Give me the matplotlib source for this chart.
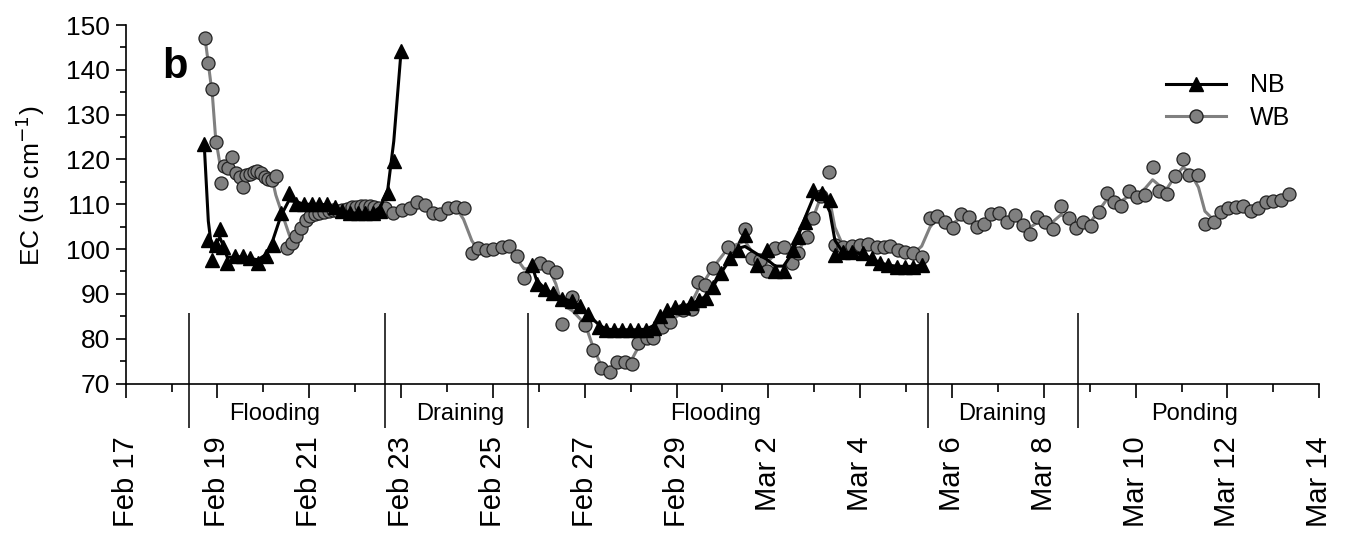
import numpy as np
import pandas as pd
from matplotlib import pyplot as plt
from matplotlib.ticker import MultipleLocator, FixedLocator

plt.rcParams['font.family'] = ['Liberation Sans', 'DejaVu Sans']

# time axis: days since Feb 17
tick_days = list(range(0, 27, 2))
tick_labels = ['Feb 17', 'Feb 19', 'Feb 21', 'Feb 23', 'Feb 25', 'Feb 27', 'Feb 29',
               'Mar 2', 'Mar 4', 'Mar 6', 'Mar 8', 'Mar 10', 'Mar 12', 'Mar 14']

# NB (two pieces)
nb1_day = [1.71, 1.80, 1.88, 1.96, 2.05, 2.13, 2.21, 2.38, 2.55, 2.71, 2.88, 3.05, 3.21,
           3.38, 3.55, 3.71, 3.88, 4.05, 4.21, 4.38, 4.55, 4.71, 4.88, 5.05, 5.21, 5.38,
           5.55, 5.71, 5.84, 6.00]
nb1_ec = [123.5, 102, 97.5, 101, 104.5, 100.5, 97, 98.5, 98.5, 98, 97, 98.5, 101,
          108, 112.5, 110, 110, 110, 110, 110, 109.5, 108.5, 108, 108, 108, 108,
          108.5, 112.6, 119.7, 144.3]
nb2_day = [8.85, 8.95, 9.13, 9.30, 9.50, 9.72, 9.90, 10.08, 10.30, 10.46, 10.64, 10.81,
           10.99, 11.16, 11.34, 11.51, 11.64, 11.79, 11.97, 12.14, 12.32, 12.49, 12.64,
           12.80, 12.97, 13.16, 13.34, 13.49, 13.75, 13.96, 14.15, 14.33, 14.54, 14.65,
           14.80, 14.97, 15.16, 15.34, 15.45, 15.63, 15.82, 16.07, 16.25, 16.43, 16.61,
           16.80, 16.98, 17.16, 17.34]
nb2_ec = [96.4, 92.3, 91.2, 90.1, 88.9, 88.5, 87.4, 85.6, 82.6, 82, 82, 82,
          82, 82, 82, 82.5, 85, 86.3, 87, 87, 87.9, 88.6, 89,
          91.6, 94.7, 97.9, 99.8, 103.1, 96.4, 99.8, 95, 95, 99.8, 102.8,
          106.1, 113.2, 112.5, 111, 98.7, 99.4, 99.3, 99.1, 97.9, 96.8, 96.4,
          96.1, 96.1, 96.1, 96.4]

# WB
wb_day = [1.73, 1.80, 1.89, 1.96, 2.07, 2.15, 2.23, 2.31, 2.40, 2.48, 2.55, 2.63, 2.71,
          2.79, 2.87, 2.95, 3.03, 3.11, 3.19, 3.27, 3.52, 3.62, 3.72, 3.82, 3.92, 4.02,
          4.12, 4.22, 4.32, 4.42, 4.52, 4.62, 4.72, 4.82, 4.92, 5.02, 5.12, 5.22, 5.32,
          5.42, 5.52, 5.65, 5.83, 6.01, 6.19, 6.35, 6.52, 6.69, 6.85, 7.03, 7.20, 7.36,
          7.54, 7.68, 7.85, 8.01, 8.19, 8.36, 8.52, 8.68, 9.03, 9.21, 9.37, 9.50, 9.73,
          10.01, 10.19, 10.35, 10.54, 10.70, 10.88, 11.04, 11.17, 11.35, 11.49, 11.68,
          11.86, 12.15, 12.33, 12.47, 12.62, 12.80, 13.13, 13.49, 13.64, 13.82, 13.97,
          14.15, 14.33, 14.51, 14.65, 14.84, 14.98, 15.15, 15.32, 15.45, 15.63, 15.82,
          16.00, 16.18, 16.36, 16.51, 16.65, 16.83, 16.98, 17.16, 17.34, 17.52, 17.68,
          17.85, 18.02, 18.19, 18.37, 18.54, 18.70, 18.85, 19.03, 19.19, 19.37, 19.54,
          19.70, 19.86, 20.03, 20.20, 20.37, 20.54, 20.70, 20.86, 21.03, 21.20, 21.37,
          21.52, 21.68, 21.86, 22.04, 22.21, 22.37, 22.52, 22.68, 22.86, 23.03, 23.17,
          23.37, 23.51, 23.70, 23.86, 24.02, 24.19, 24.35, 24.51, 24.67, 24.84, 25.00,
          25.16, 25.35]
wb_ec = [147, 141.5, 135.7, 124, 114.8, 118.5, 118, 120.6, 117, 116, 113.9, 116.5, 116.8,
         117.3, 117.5, 117, 116, 115.6, 115.5, 116.3, 100.2, 101.3, 103, 104.8, 106.5, 107.3,
         107.8, 108, 108.2, 108.5, 108.7, 108.6, 108.7, 109, 109.3, 109.5, 109.6, 109.6, 109.6,
         109.5, 109.2, 109.1, 108.0, 108.7, 109.1, 110.6, 109.8, 108.0, 107.8, 109.1, 109.3, 109.1,
         99.1, 100.2, 99.8, 100.0, 100.5, 100.7, 98.5, 93.5, 96.8, 95.9, 94.9, 83.3, 89.3,
         83.1, 77.5, 73.4, 72.6, 74.9, 74.9, 74.3, 79.1, 80.1, 80.1, 82.7,
         83.8, 86.4, 86.6, 92.7, 92.0, 95.7, 100.5, 104.4, 97.9, 97.6, 95.0,
         100.2, 100.5, 96.8, 99.1, 102.8, 106.9, 111.8, 117.1, 100.9, 100.5, 100.7,
         100.9, 101.1, 100.5, 100.5, 100.7, 99.9, 99.4, 99.1, 98.3, 106.9, 107.4,
         106.1, 104.6, 107.8, 107.2, 104.9, 105.6, 107.8, 108.0, 106.1, 107.6, 105.4,
         103.4, 107.1, 106.1, 104.4, 109.6, 106.9, 104.6, 106.1, 105.2, 108.3, 112.6,
         110.6, 109.6, 113.0, 111.7, 112.1, 118.4, 113.0, 112.3, 116.3, 120.0, 116.5,
         116.5, 105.6, 106.1, 108.3, 109.1, 109.5, 109.6, 108.6, 109.1, 110.4, 110.8,
         111.0, 112.3]

# management phases
phase_bounds = [1.37, 5.64, 8.76, 17.47, 20.75]
phase_names = ['Flooding', 'Draining', 'Flooding', 'Draining', 'Ponding']
phase_mid = [3.24, 7.29, 12.85, 19.09, 23.28]


def smooth(v):
    # light 1-2-1 smoothing for the connecting line, ends kept
    v = np.asarray(v, dtype=float)
    s = v.copy()
    s[1:-1] = 0.25 * v[:-2] + 0.5 * v[1:-1] + 0.25 * v[2:]
    return s


fig = plt.figure(figsize=(13.5, 5.37), dpi=100)
ax = fig.add_axes([0.0931, 0.2858, 0.8841, 0.6676])

grey = '#808080'
ax.plot(wb_day, smooth(wb_ec), color=grey, lw=2.2, zorder=2)
ax.plot(wb_day, wb_ec, ls='none', marker='o', ms=9.4, mfc=grey, mec='#222222', mew=0.9, zorder=3)
ax.plot(nb1_day, smooth(nb1_ec), color='black', lw=2.2, zorder=4)
ax.plot(nb2_day, smooth(nb2_ec), color='black', lw=2.2, zorder=4)
ax.plot(nb1_day, nb1_ec, ls='none', marker='^', ms=9.5, color='black', zorder=5)
ax.plot(nb2_day, nb2_ec, ls='none', marker='^', ms=9.5, color='black', zorder=5)

# legend handles
ax.plot([], [], color='black', lw=2.2, marker='^', ms=9.5, label='NB')
ax.plot([], [], color=grey, lw=2.2, marker='o', ms=9.4, mfc=grey, mec='#222222', label='WB')
h, l = ax.get_legend_handles_labels()
ax.legend(h, l, loc='upper left', bbox_to_anchor=(0.872, 0.865), frameon=False,
          fontsize=18, handlelength=2.4, handletextpad=0.95, labelspacing=0.35,
          borderpad=0, borderaxespad=0)

ax.set_xlim(0, 26)
ax.set_ylim(70, 150)
ax.xaxis.set_major_locator(FixedLocator(tick_days))
ax.set_xticklabels(tick_labels, rotation=90, fontsize=21)
ax.xaxis.set_minor_locator(MultipleLocator(1))
ax.yaxis.set_major_locator(MultipleLocator(10))
ax.yaxis.set_minor_locator(MultipleLocator(5))
ax.tick_params(axis='x', which='major', length=10, width=1.2, pad=28)
ax.tick_params(axis='x', which='minor', length=5.5, width=1.2)
ax.tick_params(axis='y', which='major', length=7.5, width=1.2, pad=4, labelsize=19)
ax.tick_params(axis='y', which='minor', length=4.5, width=1.2)
for s in ['top', 'right']:
    ax.spines[s].set_visible(False)
for s in ['left', 'bottom']:
    ax.spines[s].set_linewidth(1.2)

ax.set_ylabel('EC (us cm$^{\\mathsf{-1}}$)', fontsize=19)
ax.yaxis.set_label_coords(-0.066, 0.551)

trans = ax.get_xaxis_transform()
ax.vlines(phase_bounds, -0.124, 0.1975, transform=trans, colors='black', lw=1.1, clip_on=False)
for xm, name in zip(phase_mid, phase_names):
    ax.text(xm, -0.055, name, transform=trans, ha='center', va='top', fontsize=17)

ax.text(0.031, 0.852, 'b', transform=ax.transAxes, fontsize=30, fontweight='bold')

fig.savefig('out.png', dpi=100)
